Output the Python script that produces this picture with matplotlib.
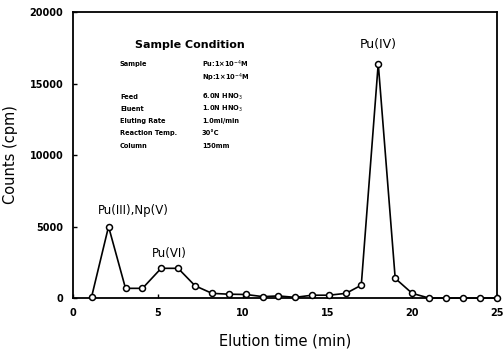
import matplotlib
matplotlib.use("Agg")
import matplotlib.pyplot as plt

# elution profile
time_min = [1.1, 2.1, 3.1, 4.1, 5.2, 6.2, 7.2, 8.2, 9.2, 10.2, 11.2, 12.1, 13.1,
            14.1, 15.1, 16.1, 17.0, 18.0, 19.0, 20.0, 21.0, 22.0, 23.0, 24.0, 25.0]
counts = [80, 5000, 680, 680, 2080, 2080, 860, 330, 270, 250, 100, 150, 50,
          200, 200, 330, 900, 16400, 1380, 330, 0, 0, 0, 0, 0]

cond_names = ["Sample", "", "Feed", "Eluent", "Eluting Rate", "Reaction Temp.", "Column"]
cond_values = ["Pu:1×10$^{-4}$M", "Np:1×10$^{-4}$M", "6.0N HNO$_3$", "1.0N HNO$_3$",
               "1.0ml/min", "30°C", "150mm"]
cond_rows_y = [64, 78, 97, 109, 121, 133, 146]   # pixel rows from top

fig = plt.figure(figsize=(5.03, 3.54), dpi=100)
ax = fig.add_axes([0.145, 0.158, 0.843, 0.808])

ax.plot(time_min, counts, color="black", lw=1.2, marker="o", ms=4.3,
        mfc="white", mec="black", mew=1.1, clip_on=False, zorder=3)

ax.set_xlim(0, 25)
ax.set_ylim(0, 20000)
ax.set_xticks([0, 5, 10, 15, 20, 25])
ax.set_yticks([0, 5000, 10000, 15000, 20000])
ax.tick_params(direction="in", length=3, width=1, labelsize=7, pad=7)
for lbl in ax.get_xticklabels() + ax.get_yticklabels():
    lbl.set_fontweight("bold")
for s in ax.spines.values():
    s.set_linewidth(1.3)

ax.set_xlabel("Elution time (min)", fontsize=10.5, labelpad=11)
ax.set_ylabel("Counts (cpm)", fontsize=10.5, labelpad=8)

# peak labels
ax.text(18.0, 17700, "Pu(IV)", ha="center", va="center", fontsize=9)
ax.text(3.55, 6150, "Pu(III),Np(V)", ha="center", va="center", fontsize=8.5)
ax.text(5.7, 3150, "Pu(VI)", ha="center", va="center", fontsize=8.5)

# experimental condition block
def fy(py):
    return 1 - py / 354

fig.text(190 / 503, fy(45), "Sample Condition", ha="center", va="center",
         fontsize=8, fontweight="bold")
for name, val, py in zip(cond_names, cond_values, cond_rows_y):
    fig.text(120 / 503, fy(py), name, ha="left", va="center", fontsize=4.8, fontweight="bold")
    fig.text(202 / 503, fy(py), val, ha="left", va="center", fontsize=4.8, fontweight="bold")

fig.savefig("out.png", dpi=100)
